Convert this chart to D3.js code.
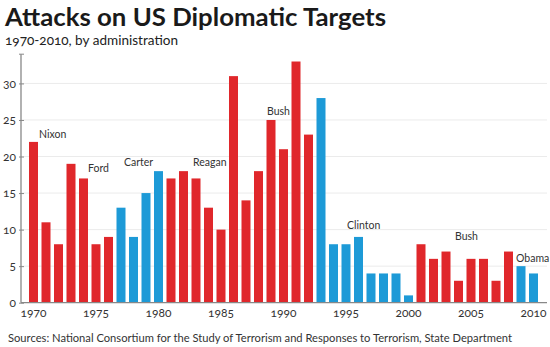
<!DOCTYPE html>
<html><head><meta charset="utf-8">
<script src="https://cdn.jsdelivr.net/npm/d3@7"></script>
<style>
body{margin:0;background:#fff;}
svg{display:block;font-family:Lato,"Open Sans",sans-serif;}
.num{font-variant-numeric:oldstyle-nums;}
</style></head>
<body><svg id="c" width="550" height="347"></svg>
<script>
const years = d3.range(1970, 2011);
const attacks = [22,11,8,19,17,8,9,13,9,15,18,17,18,17,13,10,31,14,18,25,21,33,23,28,8,8,9,4,4,4,1,8,6,7,3,6,6,3,7,5,4];
const party = ["R","R","R","R","R","R","R","D","D","D","D","R","R","R","R","R","R","R","R","R","R","R","R","D","D","D","D","D","D","D","D","R","R","R","R","R","R","R","R","D","D"];
const yTicks = [0,5,10,15,20,25,30];
const xTicks = [1970,1975,1980,1985,1990,1995,2000,2005,2010];
const admins = [
  {name:"Nixon", year:1970.8, value:22.6},
  {name:"Ford", year:1974.72, value:17.9},
  {name:"Carter", year:1977.6, value:18.7},
  {name:"Reagan", year:1983.12, value:18.7},
  {name:"Bush", year:1989.04, value:25.7},
  {name:"Clinton", year:1995.44, value:10.1},
  {name:"Bush", year:2004.08, value:8.6},
  {name:"Obama", year:2008.96, value:5.6}
];
const colors = {R:"#e0272b", D:"#1d9ad7"};

const svg = d3.select("#c");
const x = d3.scaleBand().domain(years).range([27.25, 27.25 + 41*12.5]).paddingInner(0.28).paddingOuter(0.14);
const y = d3.scaleLinear().domain([0,34]).range([302.7, 54.2]);
const xl = 21, xr = 547;

// title
svg.append("text").attr("x",5).attr("y",26)
  .attr("font-weight",700).attr("font-size",25.5).attr("fill","#1a1a1a")
  .attr("textLength",381).attr("lengthAdjust","spacingAndGlyphs")
  .text("Attacks on US Diplomatic Targets");
svg.append("text").attr("class","num").attr("x",5).attr("y",44.5).attr("font-size",13).attr("fill","#222")
  .attr("textLength",173).attr("lengthAdjust","spacingAndGlyphs")
  .text("1970-2010, by administration");

// gridlines
svg.append("g").selectAll("line").data(yTicks.filter(d=>d>0)).join("line")
  .attr("x1",xl).attr("x2",xr).attr("y1",d=>y(d)).attr("y2",d=>y(d))
  .attr("stroke","#ebebeb").attr("stroke-width",1);

// bars
svg.append("g").selectAll("rect").data(years).join("rect")
  .attr("x",d=>x(d)).attr("width",x.bandwidth())
  .attr("y",(d,i)=>y(attacks[i])).attr("height",(d,i)=>y(0)-y(attacks[i]))
  .attr("fill",(d,i)=>colors[party[i]]);

// y axis
const ya = d3.axisLeft(y).tickValues(yTicks).tickSize(2).tickPadding(4).tickFormat(d3.format("d"));
const gy = svg.append("g").attr("transform",`translate(${xl},0)`).call(ya);
gy.select(".domain").remove();
gy.append("line").attr("x1",0).attr("x2",0).attr("y1",y(34)).attr("y2",y(0)).attr("stroke","#888").attr("stroke-width",1.3);
gy.selectAll(".tick line").attr("x2",3).attr("x1",-2).attr("stroke","#888");
gy.selectAll(".tick text").attr("class","num").attr("font-size",12).attr("fill","#333").attr("font-family","Lato,sans-serif").attr("x",-5);
gy.append("line").attr("x1",-2).attr("x2",3).attr("y1",y(34)).attr("y2",y(34)).attr("stroke","#888");

// x axis
const xa = d3.axisBottom(x).tickValues(xTicks).tickSize(0).tickPadding(6);
const gx = svg.append("g").attr("transform",`translate(0,${y(0)})`).call(xa);
gx.select(".domain").remove();
gx.append("line").attr("x1",xl).attr("x2",xr).attr("y1",0).attr("y2",0).attr("stroke","#888").attr("stroke-width",1.3);
gx.selectAll(".tick text").attr("class","num").attr("font-size",12).attr("fill","#333").attr("font-family","Lato,sans-serif");

// admin labels
const xc = v => x(Math.floor(v)) + (v - Math.floor(v))*x.step();
svg.append("g").selectAll("text").data(admins).join("text")
  .attr("x",d=>xc(d.year)).attr("y",d=>y(d.value))
  .attr("font-size",10.5).attr("fill","#333").text(d=>d.name);

// source
svg.append("text").attr("x",8).attr("y",342).attr("font-size",11.5).attr("fill","#333")
  .attr("textLength",504).attr("lengthAdjust","spacingAndGlyphs")
  .text("Sources: National Consortium for the Study of Terrorism and Responses to Terrorism, State Department");
</script></body></html>
